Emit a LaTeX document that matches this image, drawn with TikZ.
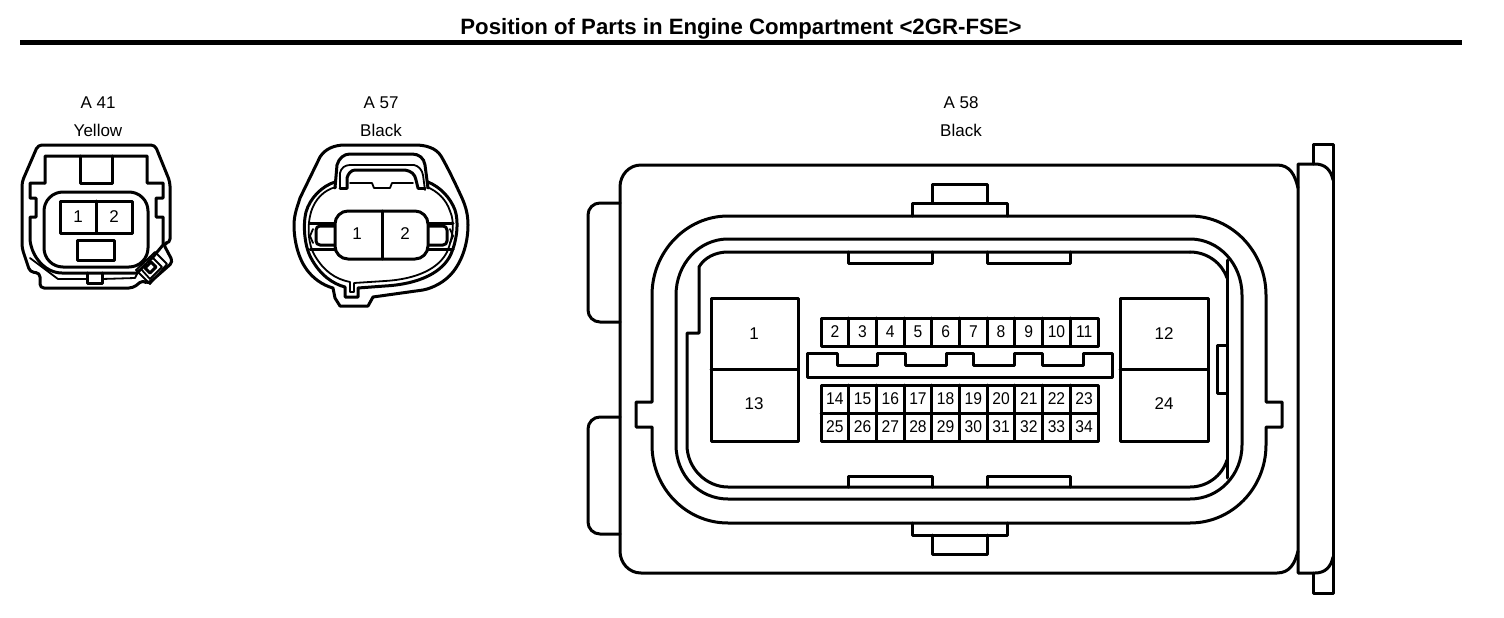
\documentclass[tikz,border=0pt]{standalone}
\usepackage{fontspec}
\setmainfont{Liberation Sans}
\begin{document}
\begin{tikzpicture}[x=1pt,y=-1pt,
  ln/.style={draw=black,line width=3pt,line join=round,line cap=round},
  thin ln/.style={draw=black,line width=1.8pt,line join=round,line cap=round},
  lbl/.style={inner sep=0pt,font=\fontsize{17}{17}\selectfont},
  pin/.style={inner sep=0pt,font=\fontsize{17}{17}\selectfont}]
\useasboundingbox (0,0) rectangle (1504,618);
\fill[white] (0,0) rectangle (1504,618);
\node[inner sep=0pt,font=\bfseries\fontsize{22.2}{22.2}\selectfont] (title) at (741,29) {Position of Parts in Engine Compartment <2GR-FSE>};
\draw[black,line width=5pt] (20,42.5) -- (1462,42.5);
% labels
\node[lbl] (a41) at (98,103) {A 41};
\node[lbl] (yellow) at (98,130) {Yellow};
\node[lbl] (a57) at (381,103) {A 57};
\node[lbl] (blackb) at (381,130) {Black};
\node[lbl] (a58) at (961,103) {A 58};
\node[lbl] (blackc) at (961,130) {Black};
% ---- A41
\draw[ln,rounded corners=4pt] (38,145) -- (155,145) -- (170,182) -- (170,243) -- (163,243) -- (173,262) -- (148,284) -- (143,280) -- (133,288) -- (40,288) -- (40,273) -- (30,272) -- (25,257) -- (22,248) -- (22,182) -- cycle;
\draw[ln] (45,183) -- (45,156) -- (147,156) -- (147,183) -- (163,183) -- (163,198) -- (156,198) -- (156,217) -- (163,217) -- (163,245) -- (153,257) -- (148,262);
\draw[ln] (45,183) -- (30,183) -- (30,198) -- (36,198) -- (36,217) -- (30,217) -- (30,240) .. controls (32,258) and (46,273) .. (62,273) -- (137,273) -- (146,264);
\draw[ln] (80,156) -- (80,183) -- (112,183) -- (112,156);
\draw[ln,rounded corners=19pt] (44,192) rectangle (148,267);
\draw[ln] (60,201) rectangle (132,233) (96,201) -- (96,233);
\draw[ln] (77,240) rectangle (114,260);
\draw[thin ln] (30,258) -- (58,279) -- (87,279) (102,279) -- (135,278) -- (139,270);
\draw[ln] (87,273) -- (87,283) -- (102,283) -- (102,273);
\draw[thin ln] (136,270) -- (150,284) -- (167,264) -- (155,252) -- cycle;
\draw[thin ln] (141,269) -- (150,279) -- (162,267) -- (152,257) -- cycle;
\draw[ln] (145,268) -- (150,273) -- (156,267) -- (151,262) -- cycle;
\node[pin] (a41p1) at (78,217) {1};
\node[pin] (a41p2) at (114,217) {2};
% ---- A57
\draw[ln] (345,145) -- (415,145) .. controls (426,145) and (436,148) .. (441,156) .. controls (448,168) and (456,185) .. (462,198) .. controls (466,207) and (468,215) .. (468,225) .. controls (468,240) and (464,258) .. (453,272) .. controls (445,282) and (433,288) .. (423,290) -- (373,297) -- (368,306) -- (340,306) -- (335,298) -- (333,288) .. controls (322,285) and (313,278) .. (307,270) .. controls (298,258) and (294,240) .. (294,225) .. controls (294,214) and (298,205) .. (300,198) -- (320,157) .. controls (325,149) and (334,145) .. (345,145) -- cycle;
% lock
\draw[ln] (335,188) -- (337,165) .. controls (339,158) and (344,154) .. (350,154) -- (412,154) .. controls (419,154) and (424,158) .. (425,165) -- (428,188);
\draw[thin ln] (340,188) -- (340,173) .. controls (341,168) and (345,165) .. (350,165) -- (414,165) .. controls (419,166) and (422,170) .. (423,175) -- (425,190);
\draw[ln] (347,188) -- (347,178) .. controls (348,174) and (351,170) .. (355,170) -- (405,170) .. controls (411,171) and (415,174) .. (416,180) -- (418,188);
\draw[ln] (340,188) -- (347,188) (418,188) -- (425,188);
\draw[thin ln] (350,183) -- (372,183) -- (374,188) -- (390,188) -- (392,183) -- (413,183);
% ring
\draw[ln] (335,182) .. controls (322,186) and (310,198) .. (306,212) .. controls (303,224) and (304,245) .. (311,258) .. controls (320,275) and (333,284) .. (345,287) -- (345,297) -- (358,297) -- (358,288) -- (385,286) .. controls (420,284) and (443,272) .. (451,254) .. controls (457,240) and (459,222) .. (455,210) .. controls (450,197) and (440,187) .. (428,182);
\draw[thin ln] (336,187) .. controls (324,190) and (315,199) .. (311,212) .. controls (307,226) and (308,245) .. (315,256) .. controls (324,271) and (335,279) .. (350,282) -- (350,292) -- (354,292) -- (354,283) -- (385,281) .. controls (418,279) and (439,268) .. (447,252) .. controls (453,238) and (455,222) .. (450,211) .. controls (446,199) and (437,191) .. (427,187);
% plug and side tabs
\draw[ln] (335,223) -- (310,223) (310,249) -- (335,249);
\draw[ln] (428,223) -- (453,223) (453,249) -- (428,249);
\draw[ln,rounded corners=4pt] (335,226) -- (316,226) -- (316,245) -- (335,245);
\draw[ln,rounded corners=4pt] (428,226) -- (447,226) -- (447,245) -- (428,245);
\draw[thin ln] (313,229) -- (310,236) -- (313,243);
\draw[thin ln] (450,229) -- (453,236) -- (450,243);
\draw[ln,fill=white,rounded corners=13pt] (335,211) -- (428,211) -- (428,259) -- (335,259) -- cycle;
\draw[ln] (382,211) -- (382,259);
\node[pin] (a57p1) at (357,234) {1};
\node[pin] (a57p2) at (405,234) {2};
% ---- A58 body
\draw[ln] (1298,188) .. controls (1295,175) and (1290,165) .. (1277,165) -- (641,165) .. controls (629,165) and (620,175) .. (620,187) -- (620,551) .. controls (620,563) and (629,573) .. (641,573) -- (1277,573) .. controls (1290,573) and (1295,563) .. (1298,551);
% tabs
\draw[ln,rounded corners=12pt] (620,203) -- (588,203) -- (588,322) -- (620,322);
\draw[ln,rounded corners=12pt] (620,417) -- (588,417) -- (588,534) -- (620,534);
% right bar
\draw[ln] (1313,164) -- (1313,144) -- (1333,144) -- (1333,593) -- (1313,593) -- (1313,573);
\draw[ln] (1333,180) .. controls (1331,170) and (1325,164) .. (1315,164) -- (1298,164) -- (1298,573) -- (1315,573) .. controls (1325,573) and (1331,567) .. (1333,557);
% rings
\draw[ln] (728,216) -- (1190,216) .. controls (1232,216) and (1266,252) .. (1266,295) -- (1266,402) -- (1282,402) -- (1282,427) -- (1266,427) -- (1266,445) .. controls (1266,488) and (1232,523) .. (1190,523) -- (728,523) .. controls (686,523) and (652,488) .. (652,445) -- (652,427) -- (636,427) -- (636,402) -- (652,402) -- (652,295) .. controls (652,252) and (686,216) .. (728,216) -- cycle;
\draw[ln] (728,239) -- (1190,239) .. controls (1219,239) and (1242,264) .. (1242,295) -- (1242,445) .. controls (1242,475) and (1219,499) .. (1190,499) -- (728,499) .. controls (699,499) and (676,475) .. (676,445) -- (676,295) .. controls (676,264) and (699,239) .. (728,239) -- cycle;
\draw[ln] (1190,252) -- (728,252) .. controls (715,252) and (704,258) .. (699,267) -- (699,333) -- (687,333) -- (687,445) .. controls (687,468) and (706,487) .. (728,487) -- (1190,487) .. controls (1207,487) and (1222,476) .. (1227,460);
\draw[ln] (1190,252) .. controls (1207,252) and (1222,263) .. (1227,278);
\draw[ln] (1227,260) -- (1227,478);
\draw[ln] (1227,345) -- (1217,345) -- (1217,393) -- (1227,393);
% small tabs
\draw[ln] (848,252) -- (848,263) -- (932,263) -- (932,252);
\draw[ln] (987,252) -- (987,263) -- (1070,263) -- (1070,252);
\draw[ln] (848,487) -- (848,476) -- (932,476) -- (932,487);
\draw[ln] (987,487) -- (987,476) -- (1070,476) -- (1070,487);
% clips
\draw[ln] (912,216) -- (912,203) -- (1007,203) -- (1007,216);
\draw[ln] (932,203) -- (932,184) -- (987,184) -- (987,203);
\draw[ln] (912,523) -- (912,535) -- (1007,535) -- (1007,523);
\draw[ln] (932,535) -- (932,554) -- (987,554) -- (987,535);
% big cavities
\draw[ln] (711,298) rectangle (798,441) (711,369) -- (798,369);
\draw[ln] (1120,298) rectangle (1208,441) (1120,369) -- (1208,369);
\node[pin] (p1) at (754,334) {1};
\node[pin] (p13) at (754,404) {13};
\node[pin] (p12) at (1164,334) {12};
\node[pin] (p24) at (1164,404) {24};
% key bar
\draw[ln] (807,377) -- (807,353) -- (837,353) -- (837,365) -- (877,365) -- (877,353) -- (905,353) -- (905,365) -- (946,365) -- (946,353) -- (973,353) -- (973,365) -- (1014,365) -- (1014,353) -- (1042,353) -- (1042,365) -- (1083,365) -- (1083,353) -- (1112,353) -- (1112,377) -- cycle;
% pin blocks
\draw[ln] (821,318) rectangle (1098,346);
\draw[ln] (821,385) rectangle (1098,441) (821,413) -- (1098,413);
\foreach \i in {1,...,9}{
  \draw[ln] ({821+27.7*\i},318) -- ({821+27.7*\i},346);
  \draw[ln] ({821+27.7*\i},385) -- ({821+27.7*\i},441);
}
\foreach \i in {0,...,9}{
  \pgfmathtruncatemacro{\na}{\i+2}
  \pgfmathtruncatemacro{\nb}{\i+14}
  \pgfmathtruncatemacro{\nc}{\i+25}
  \node[pin,xscale=.92] (p\na) at ({834.85+27.7*\i},332) {\na};
  \node[pin,xscale=.92] (p\nb) at ({834.85+27.7*\i},399) {\nb};
  \node[pin,xscale=.92] (p\nc) at ({834.85+27.7*\i},427) {\nc};
}
\end{tikzpicture}
\end{document}
